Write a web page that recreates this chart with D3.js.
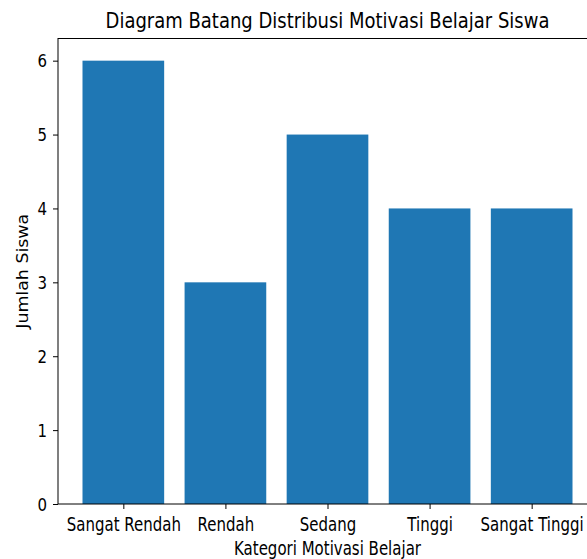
<!DOCTYPE html>
<html>
<head>
<meta charset="utf-8">
<script src="https://cdn.jsdelivr.net/npm/d3@7"></script>
<style>
body{margin:0;background:#fff;}
text{font-family:"DejaVu Sans",sans-serif;fill:#000;}
</style>
</head>
<body>
<svg id="chart" width="587" height="559"></svg>
<script>
var categories = ["Sangat Rendah","Rendah","Sedang","Tinggi","Sangat Tinggi"];
var jumlahSiswa = [6,3,5,4,4];
var yTicks = [0,1,2,3,4,5,6];

var svg = d3.select("#chart");
// axes box, right edge falls outside the picture like the original
var axLeft = 58, axRight = 597, axTop = 38.5, axBottom = 504;
// the original picture looks stretched up a bit, text included
var stretch = 1.25;

var x = d3.scaleLinear().domain([-0.64, categories.length - 1 + 0.64]).range([axLeft, axRight]);
var y = d3.scaleLinear().domain([0, 6.3]).range([axBottom, axTop]);
var barW = x(0.8) - x(0);

svg.append("g").selectAll("rect")
	.data(jumlahSiswa)
	.enter()
	.append("rect")
	.attr("x", function(d,i){ return x(i) - barW/2; })
	.attr("y", function(d){ return y(d); })
	.attr("width", barW)
	.attr("height", function(d){ return axBottom - y(d); })
	.attr("fill", "#1f77b4");

var xAxis = d3.axisBottom(x)
	.tickValues(d3.range(categories.length))
	.tickFormat(function(d){ return categories[d]; })
	.tickSize(5);

var gx = svg.append("g").attr("transform","translate(0,"+axBottom+")").call(xAxis);
var gy = svg.append("g").attr("transform","translate("+axLeft+",0)")
	.call(d3.axisLeft(y).tickValues(yTicks).tickFormat(d3.format("d")).tickSize(5));

[gx, gy].forEach(function(g){
	g.select(".domain").remove();
	g.selectAll("line").attr("stroke","#000").attr("stroke-width",1);
	g.selectAll("text").style("font-size","15px").attr("fill","#000")
		.attr("x",0).attr("y",0).attr("dy",0);
});
gx.selectAll("text").attr("transform","translate(0,27) scale(1,"+stretch+")");
gy.selectAll("text").attr("transform","translate(-11,6.2) scale(1,1.15)");

// frame
svg.append("rect")
	.attr("x", axLeft).attr("y", axTop)
	.attr("width", axRight - axLeft).attr("height", axBottom - axTop)
	.attr("fill","none").attr("stroke","#000").attr("stroke-width",1);

svg.append("text")
	.attr("transform","translate("+((axLeft+axRight)/2)+",28) scale(1,1.22)")
	.attr("text-anchor","middle").style("font-size","18px")
	.text("Diagram Batang Distribusi Motivasi Belajar Siswa");

svg.append("text")
	.attr("transform","translate("+((axLeft+axRight)/2)+",555) scale(1,"+stretch+")")
	.attr("text-anchor","middle").style("font-size","15px")
	.text("Kategori Motivasi Belajar");

// rotated, so the stretch runs along the text
svg.append("text")
	.attr("transform","translate(28,"+((axTop+axBottom)/2)+") rotate(-90) scale(1.16,1)")
	.attr("text-anchor","middle").style("font-size","15px")
	.text("Jumlah Siswa");
</script>
</body>
</html>
